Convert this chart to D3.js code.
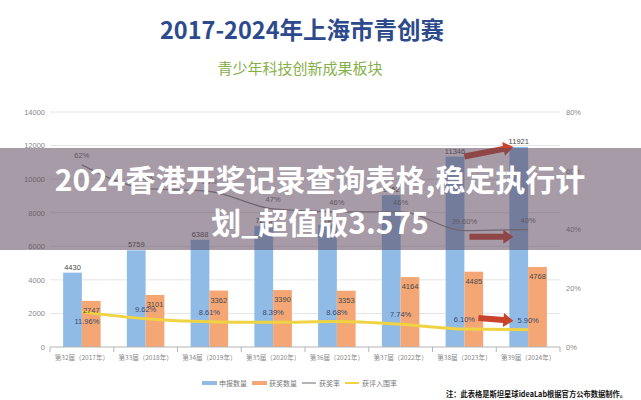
<!DOCTYPE html>
<html>
<head>
<meta charset="utf-8">
<script src="https://cdn.jsdelivr.net/npm/d3@7/dist/d3.min.js"></script>
<style>
  html, body { margin: 0; padding: 0; background: #fff; }
  svg { display: block; font-family: "Noto Sans CJK SC", "Noto Sans", sans-serif; }
</style>
</head>
<body>
<svg id="chart" width="641" height="400"></svg>
<script>
// ---------- data ----------
const titleText = "2017-2024年上海市青创赛";
const subtitleText = "青少年科技创新成果板块";
const bannerLines = ["2024香港开奖记录查询表格,稳定执行计", "划_超值版3.575"];
const noteText = "注：此表格是斯坦星球ideaLab根据官方公布数据制作。";

const categories = ["第32届（2017年）", "第33届（2018年）", "第34届（2019年）", "第35届（2020年）",
                    "第36届（2021年）", "第37届（2022年）", "第38届（2023年）", "第39届（2024年）"];
const applications = [4430, 5759, 6388, 7213, 7289, 9052, 11346, 11921];
const awards = [2747, 3101, 3362, 3390, 3353, 4164, 4485, 4768];
const awardRate = [62, 54, 53, 47, 46, 46, 39.6, 40];
const awardRateLabels = ["62%", "54%", "53%", "47%", "46%", "46%", "39.60%", "40%"];
const shortlistRate = [11.96, 9.62, 8.61, 8.39, 8.68, 7.74, 6.10, 5.90];
const shortlistLabels = ["11.96%", "9.62%", "8.61%", "8.39%", "8.68%", "7.74%", "6.10%", "5.90%"];
const seriesNames = ["申报数量", "获奖数量", "获奖率", "获评入围率"];
const leftTicks = [0, 2000, 4000, 6000, 8000, 10000, 12000, 14000];
const rightTicks = [0, 20, 40, 60, 80];
// red annotation arrows: [from category, start shift (band fraction), from value, to category, to value, axis]
const arrows = [
  [6, 0.0, 11346, 7, 11921, "L"],
  [6, 0.08, 37.5, 7, 37.5, "R"],
  [6, 0.22, 9.9, 7, 8.9, "R"]
];

// ---------- setup ----------
const svg = d3.select("#chart");
const W = 641, H = 400;
const pLeft = 50, pRight = 560, pTop = 112, pBottom = 347;

const x = d3.scaleBand().domain(categories).range([pLeft, pRight]).paddingInner(0).paddingOuter(0);
const x1 = d3.scaleBand().domain(["a", "b"]).range([0, x.bandwidth()]).paddingInner(0).paddingOuter(0.7);
const yL = d3.scaleLinear().domain([0, 14000]).range([pBottom, pTop]);
const yR = d3.scaleLinear().domain([0, 80]).range([pBottom, pTop]);

const C = {
  blue: "#8fbbe6", orange: "#f4a674", gray: "#8a8a8a", yellow: "#f0d342",
  grid: "#e4e4e4", axisText: "#888", label: "#4a4a4a", red: "#c9432c"
};

// title
svg.append("text").attr("x", 302).attr("y", 39).attr("text-anchor", "middle")
  .attr("font-size", 23.5).attr("font-weight", 700).attr("fill", "#2d4b8c").text(titleText);
svg.append("text").attr("x", 300).attr("y", 74).attr("text-anchor", "middle")
  .attr("font-size", 15).attr("fill", "#86b04a").text(subtitleText);

// gridlines
svg.append("g").selectAll("line").data(leftTicks.filter(d => d > 0)).join("line")
  .attr("x1", pLeft).attr("x2", pRight).attr("y1", d => yL(d)).attr("y2", d => yL(d))
  .attr("stroke", C.grid).attr("stroke-width", 1);

// left axis
const gL = svg.append("g").attr("transform", `translate(${pLeft},0)`)
  .call(d3.axisLeft(yL).tickValues(leftTicks).tickSize(0).tickPadding(5).tickFormat(d3.format("d")));
gL.select(".domain").remove();
gL.selectAll("text").attr("font-size", 7.5).attr("fill", C.axisText).attr("font-family", "Liberation Sans, sans-serif");

// right axis
const gR = svg.append("g").attr("transform", `translate(${pRight},0)`)
  .call(d3.axisRight(yR).tickValues(rightTicks).tickSize(0).tickPadding(6).tickFormat(d => d + "%"));
gR.select(".domain").remove();
gR.selectAll("text").attr("font-size", 7.5).attr("fill", C.axisText).attr("font-family", "Liberation Sans, sans-serif");

// bars
const bars = svg.append("g");
categories.forEach((c, i) => {
  bars.append("rect").attr("x", x(c) + x1("a")).attr("y", yL(applications[i]))
    .attr("width", x1.bandwidth()).attr("height", yL(0) - yL(applications[i])).attr("fill", C.blue);
  bars.append("rect").attr("x", x(c) + x1("b")).attr("y", yL(awards[i]))
    .attr("width", x1.bandwidth()).attr("height", yL(0) - yL(awards[i])).attr("fill", C.orange);
});

// bottom axis
const gB = svg.append("g").attr("transform", `translate(0,${pBottom})`);
gB.append("line").attr("x1", pLeft).attr("x2", pRight).attr("y1", 0).attr("y2", 0).attr("stroke", "#b5b5b5");
const bounds = categories.map(c => x(c)).concat([pRight]);
gB.selectAll("line.tk").data(bounds).join("line").attr("class", "tk")
  .attr("x1", d => d).attr("x2", d => d).attr("y1", 0).attr("y2", 5).attr("stroke", "#b5b5b5");
gB.selectAll("text").data(categories).join("text")
  .attr("x", d => x(d) + x.bandwidth() / 2).attr("y", 12.5).attr("text-anchor", "middle")
  .attr("font-size", 6.5).attr("fill", C.axisText).text(d => d);

// lines
const cx = i => x(categories[i]) + x.bandwidth() / 2;
const lineR = d3.line().x((d, i) => cx(i)).y(d => yR(d)).curve(d3.curveMonotoneX);
svg.append("path").attr("d", lineR(awardRate)).attr("fill", "none").attr("stroke", C.gray).attr("stroke-width", 1.3);
svg.append("path").attr("d", lineR(shortlistRate)).attr("fill", "none").attr("stroke", C.yellow).attr("stroke-width", 3);

// bar labels
const lbl = svg.append("g").attr("font-size", 7.5).attr("fill", C.label).attr("text-anchor", "middle")
  .attr("font-family", "Liberation Sans, sans-serif");
categories.forEach((c, i) => {
  lbl.append("text").attr("x", x(c) + x1("a") + x1.bandwidth() / 2).attr("y", yL(applications[i]) - 3).text(applications[i]);
  lbl.append("text").attr("x", x(c) + x1("b") + x1.bandwidth() / 2).attr("y", yL(awards[i]) + 12).text(awards[i]);
  lbl.append("text").attr("x", cx(i)).attr("y", yR(awardRate[i]) - 7).attr("fill", "#6a6a6a").text(awardRateLabels[i]);
  lbl.append("text").attr("x", cx(i) + (i === 0 ? 5 : 0))
    .attr("y", yR(shortlistRate[i]) + (i === 0 ? 12 : -7)).attr("fill", "#3b4a6e").text(shortlistLabels[i]);
});

// arrows
const arrowG = svg.append("g");
arrows.forEach(([i1, sh, v1, i2, v2, ax]) => {
  const ys = ax === "L" ? yL : yR;
  const x0 = cx(i1) + sh * x.bandwidth(), y0 = ys(v1);
  const xe = x(categories[i2]) + x1("a") + 4, ye = ys(v2);
  const ang = Math.atan2(ye - y0, xe - x0);
  const len = Math.hypot(xe - x0, ye - y0);
  const hw = 3, hl = 10, hh = 7;
  const pts = [[0, -hw], [len - hl, -hw], [len - hl, -hh], [len, 0], [len - hl, hh], [len - hl, hw], [0, hw]];
  arrowG.append("polygon")
    .attr("points", pts.map(p => p.join(",")).join(" "))
    .attr("transform", `translate(${x0},${y0}) rotate(${ang * 180 / Math.PI})`)
    .attr("fill", C.red);
});

// legend
const lg = svg.append("g").attr("font-size", 7).attr("fill", "#777");
let lx = 202; const ly = 383;
const legendItems = [
  { name: seriesNames[0], type: "rect", color: C.blue },
  { name: seriesNames[1], type: "rect", color: C.orange },
  { name: seriesNames[2], type: "line", color: C.gray, w: 1.3 },
  { name: seriesNames[3], type: "line", color: C.yellow, w: 2 }
];
legendItems.forEach(it => {
  if (it.type === "rect") lg.append("rect").attr("x", lx).attr("y", ly - 2).attr("width", 15).attr("height", 4).attr("fill", it.color);
  else lg.append("line").attr("x1", lx).attr("x2", lx + 14).attr("y1", ly).attr("y2", ly).attr("stroke", it.color).attr("stroke-width", it.w);
  const t = lg.append("text").attr("x", lx + 17).attr("y", ly + 2.5).text(it.name);
  lx += 17 + t.node().getComputedTextLength() + 5;
});

// note
svg.append("text").attr("x", 446).attr("y", 397).attr("font-size", 7.5).attr("font-weight", 700)
  .attr("fill", "#111").attr("textLength", 181).attr("lengthAdjust", "spacingAndGlyphs").text(noteText);

// banner overlay
svg.append("rect").attr("x", 0).attr("y", 148).attr("width", W).attr("height", 102)
  .attr("fill", "rgb(92,72,92)").attr("fill-opacity", 0.55);
svg.append("text").attr("x", 320).attr("y", 191).attr("text-anchor", "middle")
  .attr("font-size", 30).attr("font-weight", 700).attr("fill", "#fff").text(bannerLines[0]);
svg.append("text").attr("x", 320).attr("y", 234).attr("text-anchor", "middle")
  .attr("font-size", 30).attr("font-weight", 700).attr("fill", "#fff").text(bannerLines[1]);
</script>
</body>
</html>
